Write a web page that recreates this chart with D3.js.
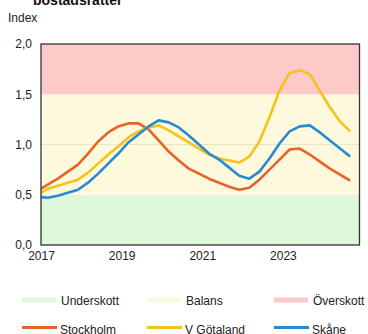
<!DOCTYPE html>
<html><head><meta charset="utf-8">
<script src="https://cdn.jsdelivr.net/npm/d3@7"></script>
<style>body{margin:0;background:#fff}svg{display:block;font-family:"Liberation Sans",Arial,sans-serif}</style>
</head><body><svg id="c" width="368" height="334"></svg>
<script>
// Quarter-end dates (decimal years), 2016Q4 .. 2024Q3
const quarters = [2016.917,2017.167,2017.417,2017.667,2017.917,2018.167,2018.417,2018.667,2018.917,2019.167,2019.417,2019.667,2019.917,2020.167,2020.417,2020.667,2020.917,2021.167,2021.417,2021.667,2021.917,2022.167,2022.417,2022.667,2022.917,2023.167,2023.417,2023.667,2023.917,2024.167,2024.417,2024.667];
const stockholm = [0.54,0.60,0.66,0.73,0.80,0.91,1.03,1.12,1.18,1.21,1.21,1.15,1.04,0.93,0.84,0.76,0.71,0.66,0.62,0.58,0.55,0.57,0.65,0.75,0.85,0.95,0.96,0.90,0.83,0.76,0.70,0.64];
const vgotaland = [0.50,0.56,0.59,0.62,0.65,0.72,0.81,0.90,0.98,1.07,1.13,1.17,1.19,1.14,1.08,1.02,0.96,0.90,0.86,0.84,0.82,0.88,1.03,1.27,1.54,1.71,1.74,1.70,1.53,1.37,1.23,1.13];
const skane = [0.48,0.47,0.49,0.52,0.55,0.62,0.71,0.81,0.91,1.02,1.10,1.18,1.24,1.22,1.17,1.09,1.00,0.91,0.85,0.77,0.69,0.66,0.73,0.86,1.01,1.13,1.18,1.19,1.12,1.04,0.96,0.88];
const yTicks = [0, 0.5, 1.0, 1.5, 2.0];
const xTicks = [2017, 2019, 2021, 2023];
const bands = [
  {name:"Underskott", from:0, to:0.5, color:"#dff8db"},
  {name:"Balans", from:0.5, to:1.5, color:"#fcf9dc"},
  {name:"Överskott", from:1.5, to:2.0, color:"#fdc9c9"}
];
const series = [
  {name:"Stockholm", values:stockholm, color:"#e8622a"},
  {name:"V Götaland", values:vgotaland, color:"#f6c21c"},
  {name:"Skåne", values:skane, color:"#2b88d2"}
];

const svg = d3.select("#c");
const L = 41, R = 359.5, T = 44, B = 245;
const x = d3.scaleLinear().domain([2017, 2024.9]).range([L, R]);
const y = d3.scaleLinear().domain([0, 2]).range([B, T]);
const fmt = d => d3.format(".1f")(d).replace(".", ",");

svg.append("defs").append("clipPath").attr("id","clip")
  .append("rect").attr("x",L).attr("y",T).attr("width",R-L).attr("height",B-T);

svg.append("text").attr("x",33).attr("y",5).attr("font-size",14).attr("font-weight","bold").attr("fill","#111").text("bostadsrätter");
svg.append("text").attr("x",8).attr("y",22).attr("font-size",12).attr("fill","#222").text("Index");

svg.selectAll("rect.band").data(bands).join("rect")
  .attr("x",L).attr("width",R-L)
  .attr("y",d=>y(d.to)).attr("height",d=>y(d.from)-y(d.to))
  .attr("fill",d=>d.color);

svg.append("line").attr("x1",L).attr("x2",R).attr("y1",y(1)).attr("y2",y(1)).attr("stroke","#ece4c6").attr("stroke-width",1);

const line = d3.line().x((d,i)=>x(quarters[i])).y(d=>y(d));
svg.append("g").attr("clip-path","url(#clip)").selectAll("path").data(series).join("path")
  .attr("d",d=>line(d.values)).attr("fill","none").attr("stroke",d=>d.color)
  .attr("stroke-width",2.6).attr("stroke-linejoin","round");

svg.append("rect").attr("x",L).attr("y",T).attr("width",R-L).attr("height",B-T)
  .attr("fill","none").attr("stroke","#333").attr("stroke-width",1.3);

const yAxis = d3.axisLeft(y).tickValues(yTicks).tickFormat(fmt).tickSize(0).tickPadding(9);
const gy = svg.append("g").attr("transform",`translate(${L},0)`).call(yAxis);
gy.select(".domain").remove();
gy.selectAll("text").attr("font-size",12).attr("fill","#222").attr("font-family","Liberation Sans, Arial, sans-serif");

const xAxis = d3.axisBottom(x).tickValues(xTicks).tickFormat(d3.format("d")).tickSize(0).tickPadding(6);
const gx = svg.append("g").attr("transform",`translate(0,${B})`).call(xAxis);
gx.select(".domain").remove();
gx.selectAll("text").attr("font-size",12).attr("fill","#222").attr("font-family","Liberation Sans, Arial, sans-serif");

const legX = [22, 147, 274];
bands.forEach((b,i)=>{
  const g = svg.append("g").attr("transform",`translate(${legX[i]},300)`);
  g.append("rect").attr("x",0).attr("y",-2.5).attr("width",34).attr("height",5).attr("fill",b.color);
  g.append("text").attr("x",39).attr("y",4.5).attr("font-size",12).attr("fill","#222").text(b.name);
});
series.forEach((s,i)=>{
  const g = svg.append("g").attr("transform",`translate(${legX[i]},327.5)`);
  g.append("line").attr("x1",0).attr("x2",35).attr("stroke",s.color).attr("stroke-width",3);
  g.append("text").attr("x",38).attr("y",6).attr("font-size",12).attr("fill","#222").text(s.name);
});
</script></body></html>
